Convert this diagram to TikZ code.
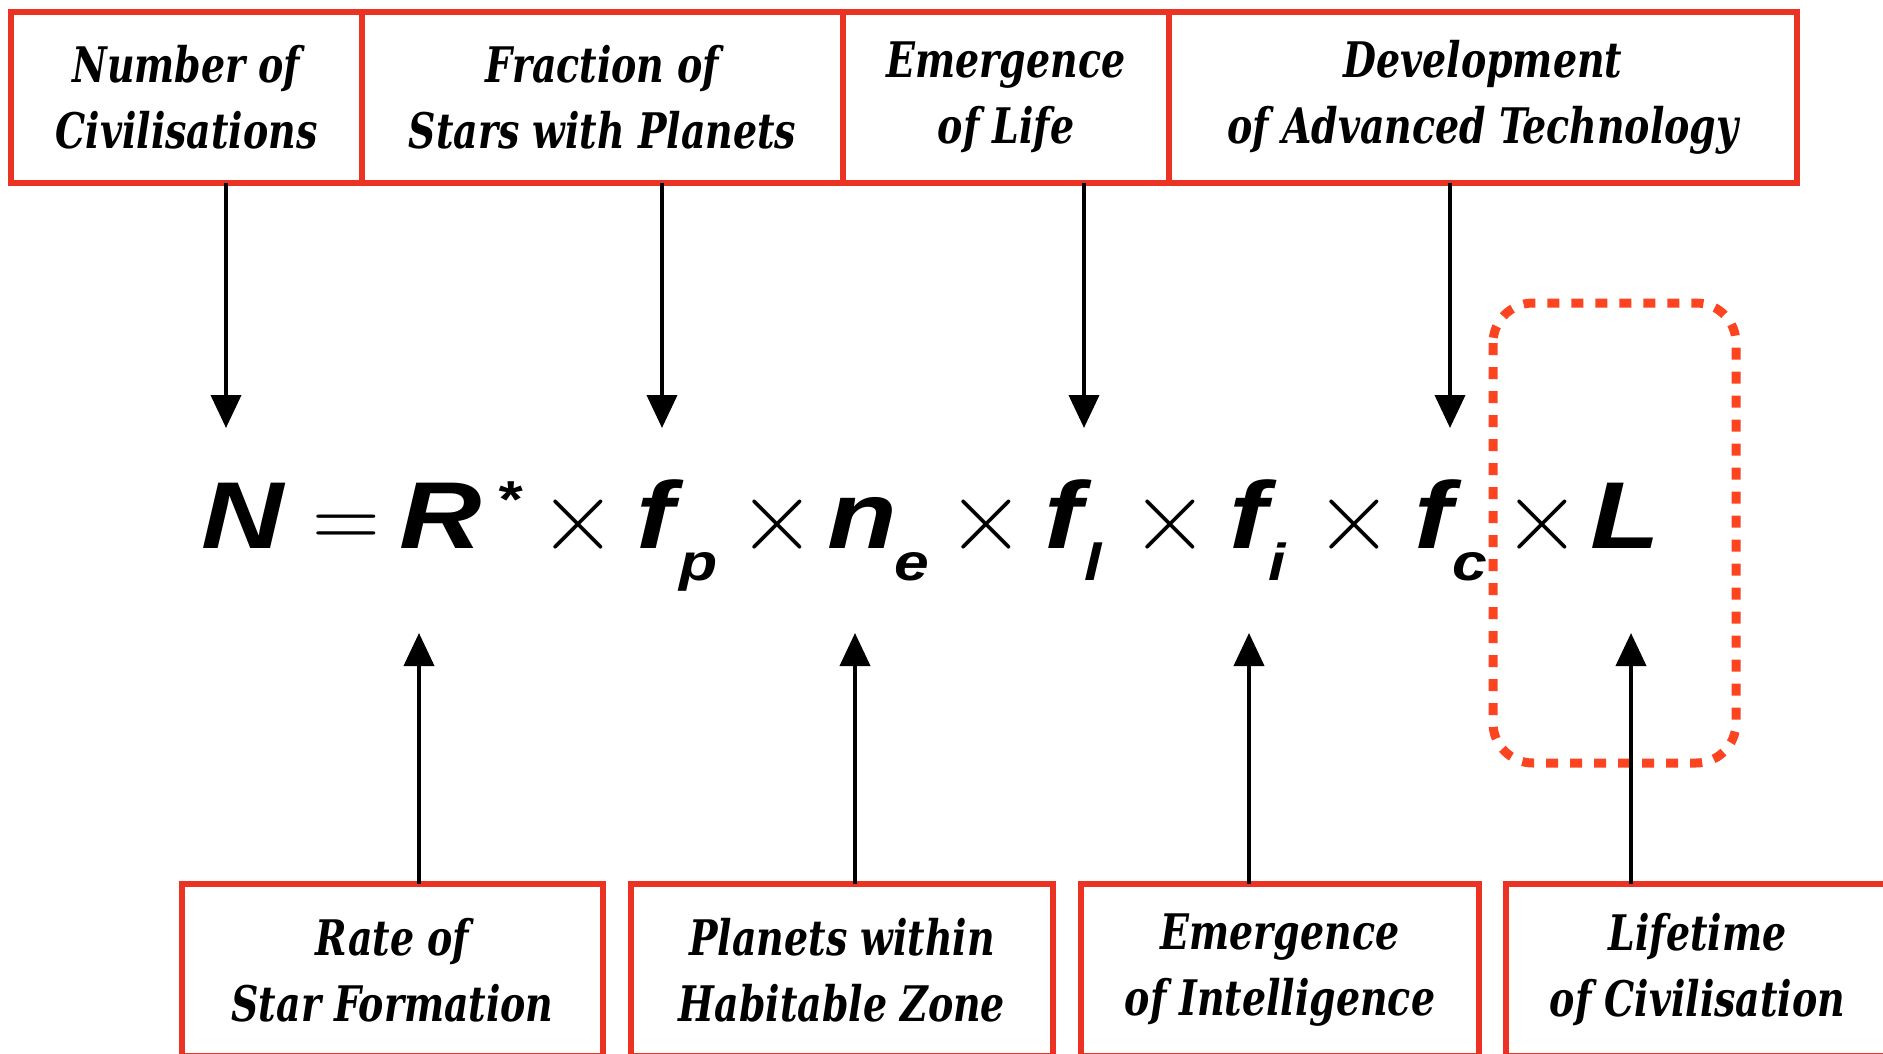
\documentclass[tikz,border=0pt]{standalone}
\usepackage{fontspec}
\usetikzlibrary{arrows.meta, positioning}
\newfontfamily\labelfont{DejaVu Serif Condensed}[FakeStretch=0.86]
\newfontfamily\eqfont{Liberation Sans}[FakeStretch=1.2]
\newfontfamily\opfont{Latin Modern Roman}
\definecolor{boxred}{RGB}{236,51,35}
\definecolor{dotred}{RGB}{252,68,32}

\begin{document}
\begin{tikzpicture}[x=1pt, y=-1pt, >={Triangle[length=33pt,width=30pt]}, line width=4pt,
  factor/.style={draw=boxred, line width=6pt, inner sep=0pt, outer sep=0pt,
    minimum height=171pt, align=center, font=\labelfont\bfseries\itshape\fontsize{49}{66}\selectfont},
  sym/.style={inner sep=0pt, anchor=base, font=\eqfont\bfseries\itshape\fontsize{95}{95}\selectfont},
  idx/.style={inner sep=0pt, anchor=base, font=\eqfont\bfseries\itshape\fontsize{52}{52}\selectfont},
  op/.style={inner sep=0pt, anchor=base, font=\opfont\fontsize{108}{108}\selectfont}]
  \useasboundingbox[fill=white] (0,0) rectangle (1883,1054);
  \clip (0,0) rectangle (1883,1054);
  % --- top row of factors ---
  \node[factor, minimum width=351pt] (number) at (186.5,97.5) {Number of\\Civilisations};
  \node[factor, minimum width=481pt, right=0pt of number] (planets) {Fraction of\\Stars with Planets};
  \node[factor, minimum width=326pt, right=0pt of planets] (life) {Emergence\\of Life};
  \node[factor, minimum width=628pt, right=0pt of life] (technology) {Development\\of Advanced Technology};
  % --- bottom row of factors ---
  \node[factor, minimum width=421pt, minimum height=172pt] (starform) at (392.5,970) {Rate of\\Star Formation};
  \node[factor, minimum width=422pt, minimum height=172pt, right=28pt of starform] (habitable) {Planets within\\Habitable Zone};
  \node[factor, minimum width=398pt, minimum height=172pt, right=28pt of habitable] (intelligence) {Emergence\\of Intelligence};
  \node[factor, minimum width=383pt, minimum height=172pt, right=27pt of intelligence] (lifetime) {Lifetime\\of Civilisation};
  % --- the equation ---
  \node[sym] (eqN) at (243,548) {N};
  \node[op, font=\opfont\fontsize{94}{94}\selectfont] (eqeq) at (346,548) {=};
  \node[sym] (eqR) at (441,548) {R};
  \node[idx] (eqstar) at (509,517) {*};
  \foreach \x [count=\i] in {578,777,986,1170,1354,1542}
    \node[op] (times\i) at (\x,551) {×};
  \foreach \x/\v [count=\i] in {655/f,862/n,1063/f,1248/f,1433/f,1625/L}
    \node[sym] (var\i) at (\x,548) {\v};
  \foreach \x/\s [count=\i] in {699/p,912/e,1093/l,1277/i,1470/c}
    \node[idx] (sub\i) at (\x,580) {\s};
  % --- dotted frame round L ---
  \draw[dotred, line width=9pt, dash pattern=on 12pt off 12pt, rounded corners=40pt]
    (1493,303) rectangle (1736,763);
  % --- arrows ---
  \coordinate (tipN) at (226,428);
  \coordinate (tipP) at (662,428);
  \coordinate (tipL) at (1084,428);
  \coordinate (tipC) at (1450,428);
  \coordinate (tipR) at (419,633);
  \coordinate (tipE) at (855,633);
  \coordinate (tipI) at (1249,633);
  \coordinate (tipT) at (1631,633);
  \draw[->] (tipN |- number.south) -- (tipN);
  \draw[->] (tipP |- planets.south) -- (tipP);
  \draw[->] (tipL |- life.south) -- (tipL);
  \draw[->] (tipC |- technology.south) -- (tipC);
  \draw[->] (tipR |- starform.north) -- (tipR);
  \draw[->] (tipE |- habitable.north) -- (tipE);
  \draw[->] (tipI |- intelligence.north) -- (tipI);
  \draw[->] (tipT |- lifetime.north) -- (tipT);
\end{tikzpicture}
\end{document}
